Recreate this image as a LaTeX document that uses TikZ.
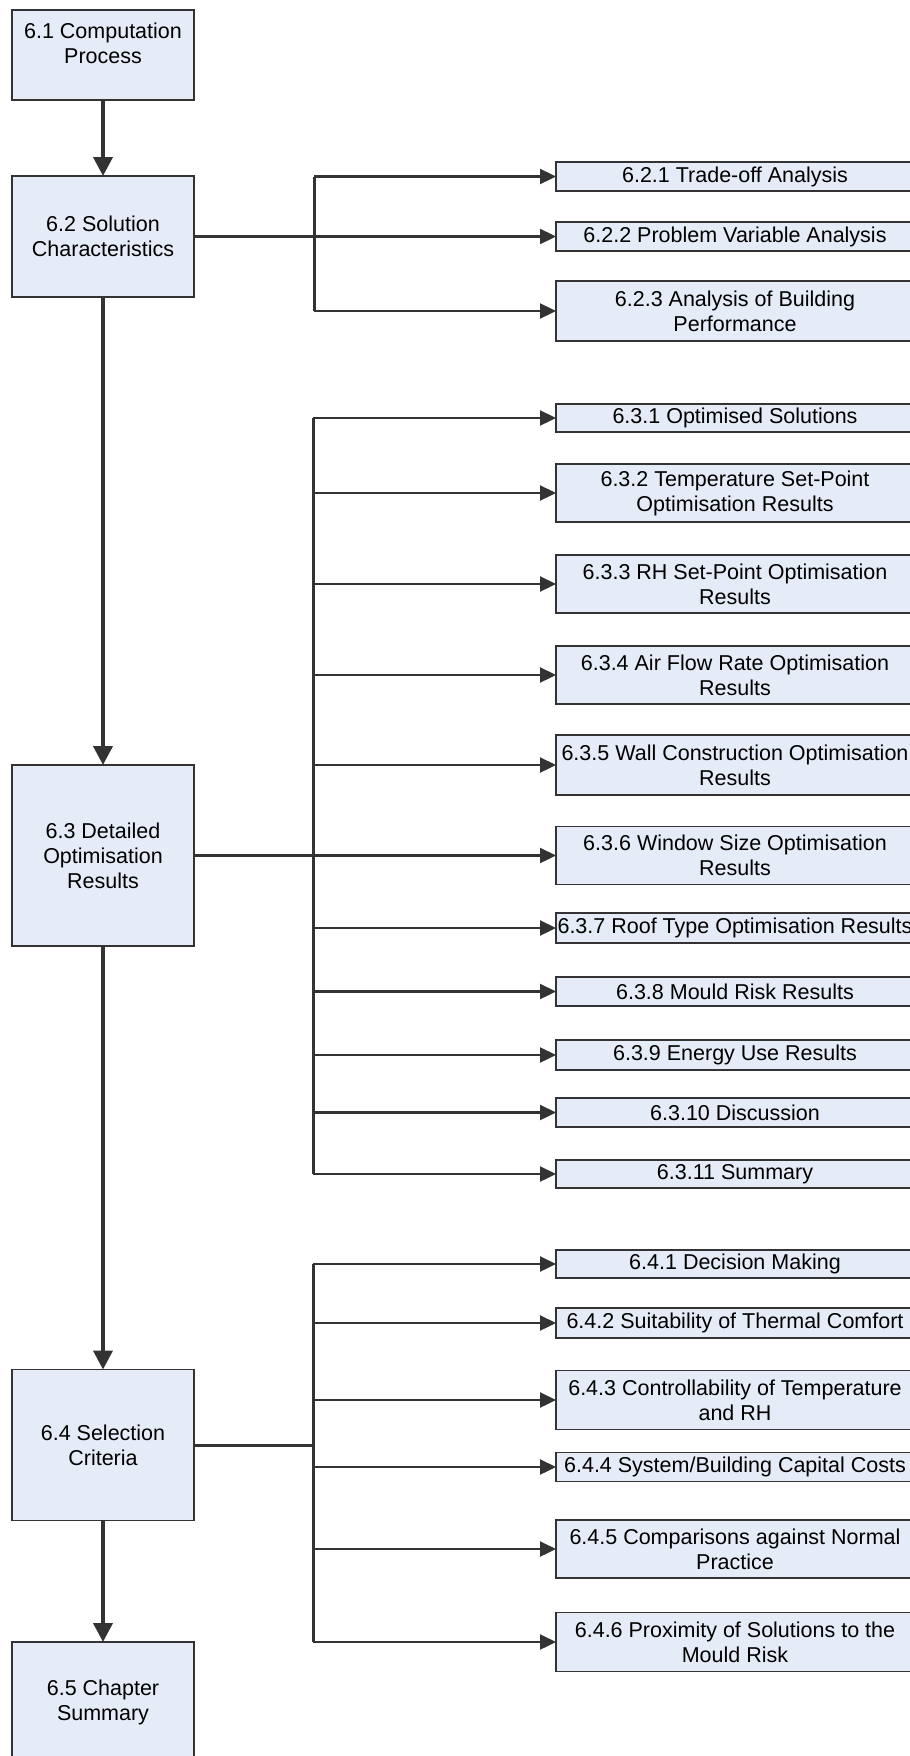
\documentclass[tikz,border=0pt]{standalone}
\usepackage{fontspec}
\setmainfont{Liberation Sans}
\usetikzlibrary{arrows.meta}
\definecolor{boxfill}{HTML}{E6ECF7}
\definecolor{boxline}{HTML}{333333}
\definecolor{linecol}{HTML}{333333}
\tikzset{
  sec/.style={draw=boxline, fill=boxfill, line width=1.1pt, minimum width=182pt,
    align=center, inner sep=0pt, outer sep=0pt, font=\fontsize{21.5}{25}\selectfont},
  sub/.style={draw=boxline, fill=boxfill, line width=1.1pt, minimum width=358pt,
    align=center, inner sep=0pt, outer sep=0pt, font=\fontsize{21.5}{25}\selectfont},
  txt/.style={align=center, inner sep=0pt, font=\fontsize{21.5}{25}\selectfont},
  main/.style={draw=linecol, line width=4pt, -{Triangle[length=19pt,width=19pt]}},
  branch/.style={draw=linecol, line width=2.3pt, -{Triangle[length=16pt,width=15pt]}},
  bus/.style={draw=linecol, line width=3pt}
}
\begin{document}
\begin{tikzpicture}[x=1pt, y=-1pt]
\useasboundingbox (0,0) rectangle (910,1756);
\clip (0,0) rectangle (910,1756);

% chapter sections
\node[sec, minimum height=90pt] (b1) at (103,55) {};
\node[txt] (t1) at (103,43) {6.1 Computation\\Process};
\node[sec, minimum height=121pt] (b2) at (103,236.5) {6.2 Solution\\Characteristics};
\node[sec, minimum height=181pt] (b3) at (103,855.5) {6.3 Detailed\\Optimisation\\Results};
\node[sec, minimum height=151pt] (b4) at (103,1445) {6.4 Selection\\Criteria};
\node[sec, minimum height=120pt] (b5) at (103,1702) {6.5 Chapter\\Summary};

% subsections of 6.2
\node[sub, minimum height=29pt] (b21) at (735,176.5) {6.2.1 Trade-off Analysis};
\node[sub, minimum height=29pt] (b22) at (735,236.5) {6.2.2 Problem Variable Analysis};
\node[sub, minimum height=60pt] (b23) at (735,311) {6.2.3 Analysis of Building\\Performance};

% subsections of 6.3
\node[sub, minimum height=28pt] (b31) at (735,418) {6.3.1 Optimised Solutions};
\node[sub, minimum height=58pt] (b32) at (735,493) {6.3.2 Temperature Set-Point\\Optimisation Results};
\node[sub, minimum height=58pt] (b33) at (735,584) {6.3.3 RH Set-Point Optimisation\\Results};
\node[sub, minimum height=58pt] (b34) at (735,675) {6.3.4 Air Flow Rate Optimisation\\Results};
\node[sub, minimum height=60pt] (b35) at (735,765) {6.3.5 Wall Construction Optimisation\\Results};
\node[sub, minimum height=58pt] (b36) at (735,855.5) {6.3.6 Window Size Optimisation\\Results};
\node[sub, minimum height=30pt] (b37) at (735,928) {6.3.7 Roof Type Optimisation Results};
\node[sub, minimum height=29pt] (b38) at (735,991.5) {6.3.8 Mould Risk Results};
\node[sub, minimum height=30pt] (b39) at (735,1055) {6.3.9 Energy Use Results};
\node[sub, minimum height=29pt] (b310) at (735,1112.5) {6.3.10 Discussion};
\node[sub, minimum height=28pt] (b311) at (735,1174) {6.3.11 Summary};

% subsections of 6.4
\node[sub, minimum height=28pt] (b41) at (735,1264) {6.4.1 Decision Making};
\node[sub, minimum height=30pt] (b42) at (735,1323) {6.4.2 Suitability of Thermal Comfort};
\node[sub, minimum height=59pt] (b43) at (735,1400) {6.4.3 Controllability of Temperature\\and RH};
\node[sub, minimum height=29pt] (b44) at (735,1467) {6.4.4 System/Building Capital Costs};
\node[sub, minimum height=58pt] (b45) at (735,1549) {6.4.5 Comparisons against Normal\\Practice};
\node[sub, minimum height=59pt] (b46) at (735,1642) {6.4.6 Proximity of Solutions to the\\Mould Risk};

% main chain
\draw[main] (b1.south) -- (b2.north);
\draw[main] (b2.south) -- (b3.north);
\draw[main] (b3.south) -- (b4.north);
\draw[main] (b4.south) -- (b5.north);

% bus positions
\coordinate (x2) at (314,0);
\coordinate (x3) at (313,0);
\coordinate (x4) at (313,0);

% 6.2 branches
\draw[bus] (b21.west -| x2) -- (b23.west -| x2);
\draw[bus] (b2.east) -- (b2.east -| x2);
\foreach \n in {b21,b22,b23} \draw[branch] (\n.west -| x2) -- (\n.west);

% 6.3 branches
\draw[bus] (b31.west -| x3) -- (b311.west -| x3);
\draw[bus] (b3.east) -- (b3.east -| x3);
\foreach \n in {b31,b32,b33,b34,b35,b36,b37,b38,b39,b310,b311} \draw[branch] (\n.west -| x3) -- (\n.west);

% 6.4 branches
\draw[bus] (b41.west -| x4) -- (b46.west -| x4);
\draw[bus] (b4.east) -- (b4.east -| x4);
\foreach \n in {b41,b42,b43,b44,b45,b46} \draw[branch] (\n.west -| x4) -- (\n.west);
\end{tikzpicture}
\end{document}
